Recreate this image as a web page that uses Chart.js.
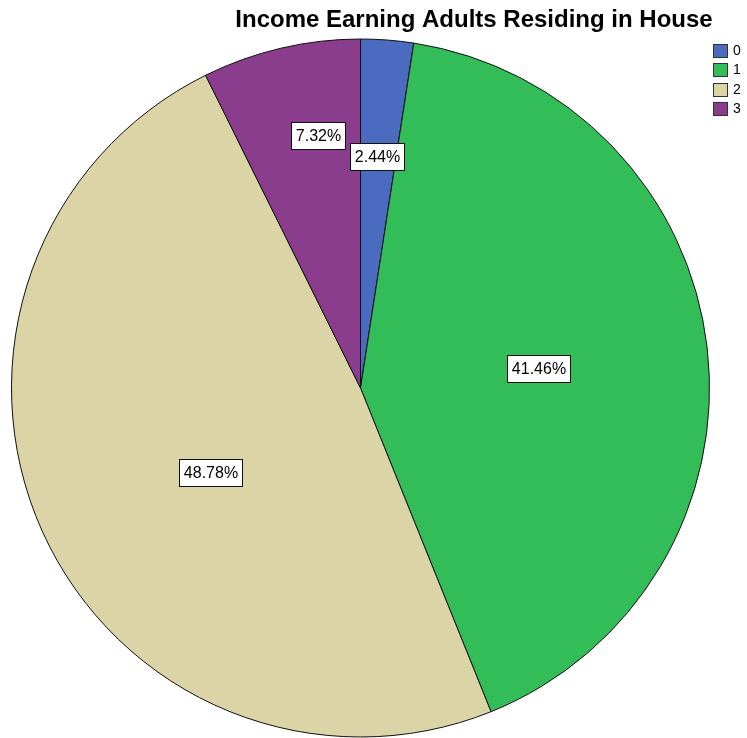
<!DOCTYPE html>
<html>
<head>
<meta charset="utf-8">
<script src="https://cdn.jsdelivr.net/npm/chart.js@4.4.1/dist/chart.umd.min.js"></script>
<style>
  html, body { margin: 0; padding: 0; background: #ffffff; }
  #wrap { width: 747px; height: 738px; position: relative; }
</style>
</head>
<body>
<div id="wrap"><canvas id="pie"></canvas></div>
<script>
// Number of income earning adults per household and their share of households (%)
const chartTitle = 'Income Earning Adults Residing in House';
const categories = ['0', '1', '2', '3'];
const percentages = [2.44, 41.46, 48.78, 7.32];
const sliceColors = ['#4a6bbf', '#32bd59', '#dad4a6', '#8b3d8d'];

// Where each value label sits inside its slice: fraction of the radius and angular nudge (deg)
const labelRadiusFraction = [0.664, 0.512, 0.493, 0.735];
const labelAngleNudge = [-0.2, 0.2, -5.1, 3.6];

const FONT = '"Liberation Sans", Arial, sans-serif';

const overlayPlugin = {
  id: 'overlay',
  afterDatasetsDraw(chart) {
    const ctx = chart.ctx;
    const meta = chart.getDatasetMeta(0);
    const values = chart.data.datasets[0].data;

    // value labels in boxed white tags
    ctx.save();
    ctx.font = '16px ' + FONT;
    ctx.textAlign = 'center';
    ctx.textBaseline = 'middle';
    meta.data.forEach((arc, i) => {
      const p = arc.getProps(['x', 'y', 'startAngle', 'endAngle', 'outerRadius'], true);
      const mid = (p.startAngle + p.endAngle) / 2 + labelAngleNudge[i] * Math.PI / 180;
      const r = p.outerRadius * labelRadiusFraction[i];
      const cx = p.x + Math.cos(mid) * r;
      const cy = p.y + Math.sin(mid) * r;
      const text = values[i].toFixed(2) + '%';
      const w = Math.round(ctx.measureText(text).width + 9);
      const h = 27;
      const bx = Math.round(cx - w / 2) + 0.5;
      const by = Math.round(cy - h / 2) + 0.5;
      ctx.fillStyle = '#ffffff';
      ctx.fillRect(bx, by, w, h);
      ctx.strokeStyle = '#111111';
      ctx.lineWidth = 1;
      ctx.strokeRect(bx, by, w, h);
      ctx.fillStyle = '#000000';
      ctx.fillText(text, bx + w / 2, by + h / 2 + 1);
    });
    ctx.restore();

    // title
    ctx.save();
    ctx.font = 'bold 24px ' + FONT;
    ctx.fillStyle = '#000000';
    ctx.textAlign = 'center';
    ctx.textBaseline = 'alphabetic';
    ctx.fillText(chartTitle, 474, 27);
    ctx.restore();

    // legend
    ctx.save();
    ctx.font = '14px ' + FONT;
    ctx.textAlign = 'left';
    ctx.textBaseline = 'middle';
    chart.data.labels.forEach((lab, i) => {
      const y = 44 + i * 19.4;
      const bx = 713.5, by = Math.round(y) + 0.5;
      ctx.fillStyle = chart.data.datasets[0].backgroundColor[i];
      ctx.fillRect(bx, by, 14, 13);
      ctx.strokeStyle = '#333333';
      ctx.lineWidth = 1;
      ctx.strokeRect(bx, by, 14, 13);
      ctx.fillStyle = '#000000';
      ctx.fillText(lab, 733, by + 7);
    });
    ctx.restore();
  }
};

new Chart(document.getElementById('pie'), {
  type: 'pie',
  data: {
    labels: categories,
    datasets: [{
      data: percentages,
      backgroundColor: sliceColors,
      borderColor: '#111111',
      borderWidth: 1
    }]
  },
  options: {
    responsive: true,
    maintainAspectRatio: false,
    animation: false,
    radius: 349,
    layout: { padding: { left: 10, right: 36, top: 39, bottom: 1 } },
    plugins: {
      legend: { display: false },
      title: { display: false },
      tooltip: { enabled: false }
    },
    events: []
  },
  plugins: [overlayPlugin]
});
</script>
</body>
</html>
